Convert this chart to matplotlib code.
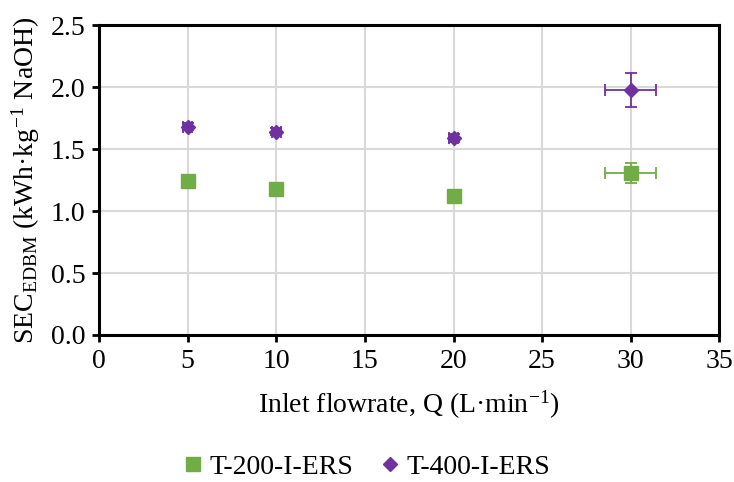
import numpy as np
import matplotlib.pyplot as plt

plt.rcParams['font.family'] = ['Liberation Serif', 'DejaVu Serif']
plt.rcParams['mathtext.fontset'] = 'stix'

# data
flow = [5, 10, 20, 30]
sec_200 = [1.24, 1.18, 1.12, 1.31]
sec_200_yerr = [0.02, 0.02, 0.02, 0.08]
sec_200_xerr = [0.2, 0.2, 0.2, 1.44]
sec_400 = [1.68, 1.64, 1.59, 1.98]
sec_400_yerr = [0.03, 0.03, 0.03, 0.137]
sec_400_xerr = [0.25, 0.25, 0.25, 1.44]

green = '#70AD47'
purple = '#7030A0'

fig = plt.figure(figsize=(7.34, 4.82), dpi=100)
ax = fig.add_axes([0.135, 0.305, 0.845, 0.643])

ax.errorbar(flow, sec_200, yerr=sec_200_yerr, xerr=sec_200_xerr, fmt='s',
            color=green, ms=10, elinewidth=1.3, capsize=4, capthick=1.3,
            label='T-200-I-ERS', zorder=3)
ax.errorbar(flow, sec_400, yerr=sec_400_yerr, xerr=sec_400_xerr, fmt='D',
            color=purple, ms=7, elinewidth=1.3, capsize=4, capthick=1.3,
            label='T-400-I-ERS', zorder=3)

ax.set_xlim(0, 35)
ax.set_ylim(0, 2.5)
ax.set_xticks(np.arange(0, 36, 5))
ax.set_yticks(np.arange(0, 2.51, 0.5))
ax.set_yticklabels([f'{v:.1f}' for v in np.arange(0, 2.51, 0.5)])
ax.grid(True, color='#d9d9d9', linewidth=1.5)
ax.set_axisbelow(True)
for s in ax.spines.values():
    s.set_linewidth(2.2)
ax.tick_params(labelsize=20, length=5, width=2, pad=5)

ax.set_xlabel(r'Inlet flowrate, Q (L·min$^{\mathregular{-1}}$)', fontsize=20, labelpad=10)
ax.set_ylabel(r'SEC$_{\mathregular{EDBM}}$ (kWh·kg$^{\mathregular{-1}}$ NaOH)', fontsize=20, labelpad=6)

handles, labels = ax.get_legend_handles_labels()
handles = [h[0] for h in handles]
fig.legend(handles, labels, loc='center', bbox_to_anchor=(0.497, 0.031), ncol=2,
           frameon=False, fontsize=20, handletextpad=0.1, columnspacing=0.8,
           handlelength=1.0)

fig.savefig('out.png', dpi=100)
